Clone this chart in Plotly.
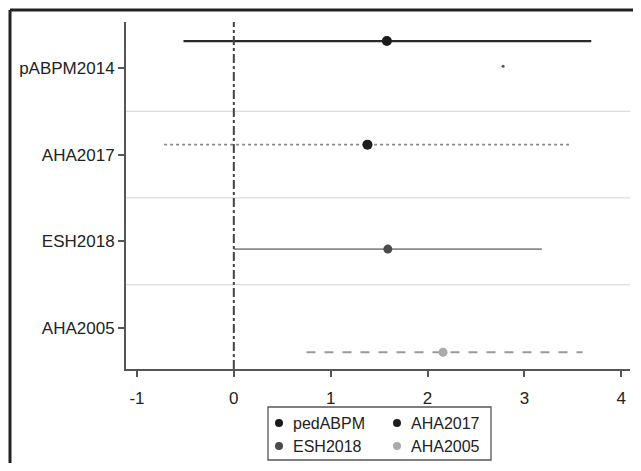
import plotly.graph_objects as go

# ---- data ----
categories = ["pABPM2014", "AHA2017", "ESH2018", "AHA2005"]
category_pos = [4, 3, 2, 1]
series = ["pedABPM", "AHA2017", "ESH2018", "AHA2005"]
offsets = [0.31, 0.115, -0.09, -0.28]
estimates = [1.58, 1.38, 1.59, 2.16]
lower = [-0.52, -0.72, 0.0, 0.75]
upper = [3.69, 3.48, 3.18, 3.60]
stray_x = [2.78]
stray_y = [4.02]
x_ticks = [-1, 0, 1, 2, 3, 4]
x_tick_text = ["-1", "0", "1", "2", "3", "4"]

# ---- styles ----
line_colors = ["#2a2a2a", "#8a8a8a", "#8a8a8a", "#9a9a9a"]
line_dash = ["solid", "dot", "solid", "dash"]
line_width = [2.2, 1.6, 1.6, 2]
marker_colors = ["#1a1a1a", "#1e1e1e", "#4a4a4a", "#ababab"]
marker_sizes = [10, 10, 9, 9]

FONT = "Liberation Sans, Arial, sans-serif"
W, H = 625, 455
L, R, T, B = 118, 3, 14, 94
PW, PH = W - L - R, H - T - B


def px(x):  # screen px (in 641x471 shot) -> paper x
    return (x - 8 - L) / PW


def py(y):
    return (H - B - (y - 8)) / PH


fig = go.Figure()

for i, name in enumerate(series):
    y = category_pos[i] + offsets[i]
    fig.add_trace(go.Scatter(
        x=[lower[i], upper[i]], y=[y, y], mode="lines",
        line=dict(color=line_colors[i], dash=line_dash[i], width=line_width[i]),
        showlegend=False, hoverinfo="skip"))
for i, name in enumerate(series):
    y = category_pos[i] + offsets[i]
    fig.add_trace(go.Scatter(
        x=[estimates[i]], y=[y], mode="markers", name=name,
        marker=dict(color=marker_colors[i], size=marker_sizes[i]),
        showlegend=False))

fig.add_trace(go.Scatter(x=stray_x, y=stray_y, mode="markers",
                         marker=dict(color="#555", size=3), showlegend=False))

# gridlines between categories
for g in [3.5, 2.5, 1.5]:
    fig.add_shape(type="line", xref="paper", x0=0, x1=1, yref="y", y0=g, y1=g,
                  line=dict(color="#dcdcdc", width=1.2), layer="below")

# zero reference line
fig.add_shape(type="line", xref="x", x0=0, x1=0, yref="paper", y0=0, y1=1,
              line=dict(color="#444", width=2, dash="dashdot"))

# outer image frame (left and top edges visible)
fig.add_shape(type="line", xref="paper", yref="paper",
              x0=px(10), x1=px(10), y0=py(480), y1=py(10),
              line=dict(color="#222", width=3))
fig.add_shape(type="line", xref="paper", yref="paper",
              x0=px(10), x1=px(641), y0=py(10), y1=py(10),
              line=dict(color="#222", width=3))

# manual legend (box, swatches, labels)
fig.add_shape(type="rect", xref="paper", yref="paper",
              x0=px(268), x1=px(491), y0=py(460), y1=py(407),
              line=dict(color="#555", width=1.3))
leg_x = [279, 397, 279, 397]
leg_y = [423, 423, 446, 446]
leg_order = [0, 1, 2, 3]
for k, i in enumerate(leg_order):
    cx, cy = leg_x[k], leg_y[k]
    fig.add_shape(type="circle", xref="paper", yref="paper",
                  xsizemode="pixel", ysizemode="pixel",
                  xanchor=px(cx), yanchor=py(cy), x0=-4, x1=4, y0=-4, y1=4,
                  fillcolor=marker_colors[i], line=dict(width=0))
    fig.add_annotation(xref="paper", yref="paper", x=px(cx + 12), y=py(cy),
                       xanchor="left", yanchor="middle", showarrow=False,
                       text=series[i], font=dict(size=16, family=FONT, color="#222"))

fig.update_layout(
    width=W, height=H,
    margin=dict(l=L, r=R, t=T, b=B),
    paper_bgcolor="white", plot_bgcolor="white",
    font=dict(family=FONT, size=17, color="#222"),
    xaxis=dict(range=[-1.113, 4.09], tickvals=x_ticks, ticktext=x_tick_text,
               showgrid=False, zeroline=False,
               showline=True, linecolor="#555", linewidth=2,
               ticks="outside", ticklen=6, tickcolor="#555", tickwidth=1.5,
               ticklabelstandoff=7),
    yaxis=dict(range=[0.527, 4.53], tickvals=category_pos, ticktext=categories,
               showgrid=False, zeroline=False, showline=True, linecolor="#555", linewidth=2,
               ticks="outside", ticklen=6, tickcolor="#555", tickwidth=1.5),
    showlegend=False,
)

fig.write_html("out.html")
